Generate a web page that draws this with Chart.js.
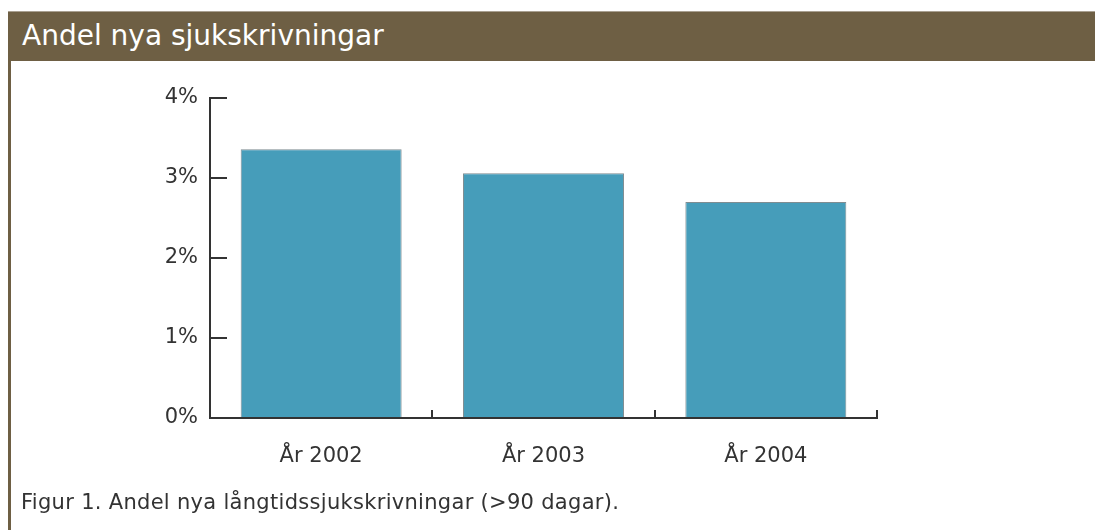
<!DOCTYPE html>
<html>
<head>
<meta charset="utf-8">
<script src="https://cdn.jsdelivr.net/npm/chart.js@4/dist/chart.umd.min.js"></script>
<style>
    html, body { margin: 0; padding: 0; background: #fff; }
    body { width: 1095px; height: 530px; position: relative; overflow: hidden; font-family: "DejaVu Sans", Verdana, sans-serif; }
    .header { position: absolute; left: 8px; top: 11px; width: 1087px; height: 50px; background: #6e5f44; border-top: 1px solid #a9a091; box-sizing: border-box; }
    .header-title { position: absolute; left: 22px; top: 22px; font-size: 28px; line-height: 28px; color: #fff; white-space: nowrap; }
    .leftline { position: absolute; left: 8px; top: 61px; width: 3px; height: 469px; background: #6e5f44; }
    .caption { position: absolute; left: 21px; top: 492px; font-size: 21px; line-height: 21px; letter-spacing: 0.3px; color: #333; white-space: nowrap; }
    #chartBox { position: absolute; left: 0; top: 0; width: 1095px; height: 530px; }
</style>
</head>
<body>
<div class="header"></div>
<div class="header-title">Andel nya sjukskrivningar</div>
<div class="leftline"></div>
<div id="chartBox"><canvas id="sjukChart"></canvas></div>
<div class="caption">Figur 1. Andel nya långtidssjukskrivningar (&gt;90 dagar).</div>

<script>
var years = ['År 2002', 'År 2003', 'År 2004'];
var andelValues = [3.36, 3.06, 2.70];
var yTicks = [0, 1, 2, 3, 4];

var axisColor = '#333333';

function initAndelChart(){
    var cont = document.getElementById('sjukChart').getContext('2d');
    var myChart = new Chart(cont, {
        type: 'bar',
        data: {
            labels: years,
            datasets: [{
                label: '',
                data: andelValues,
                backgroundColor: '#469dba',
                borderColor: '#7f8d92',
                borderWidth: 1,
                barPercentage: 0.724,
                categoryPercentage: 1
            }]
        },
        options: {
            responsive: true,
            maintainAspectRatio: false,
            animation: false,
            layout: {
                padding: { left: 150, right: 218, top: 98, bottom: 52 }
            },
            scales: {
                x: {
                    afterFit: function(s){ s.height = 60; },
                    border: { display: true, color: axisColor, width: 2 },
                    grid: {
                        display: true,
                        offset: true,
                        drawOnChartArea: false,
                        drawTicks: true,
                        tickLength: -8,
                        color: axisColor,
                        lineWidth: 2
                    },
                    ticks: {
                        padding: 34,
                        color: '#333',
                        font: { family: 'DejaVu Sans', size: 21 }
                    }
                },
                y: {
                    min: 0,
                    max: 4,
                    afterFit: function(s){ s.width = 60; },
                    afterBuildTicks: function(s){
                        s.ticks = yTicks.map(v => ({ value: v }));
                    },
                    border: { display: true, color: axisColor, width: 2 },
                    grid: {
                        display: true,
                        drawOnChartArea: false,
                        drawTicks: true,
                        tickLength: -17,
                        color: axisColor,
                        lineWidth: 2
                    },
                    ticks: {
                        padding: 29,
                        color: '#333',
                        font: { family: 'DejaVu Sans', size: 21 },
                        callback: function(v){ return v + '%'; }
                    }
                }
            },
            plugins: {
                legend: { display: false },
                tooltip: { enabled: false }
            }
        }
    });
}

document.addEventListener('DOMContentLoaded', function() {
    initAndelChart();
});
</script>
</body>
</html>
